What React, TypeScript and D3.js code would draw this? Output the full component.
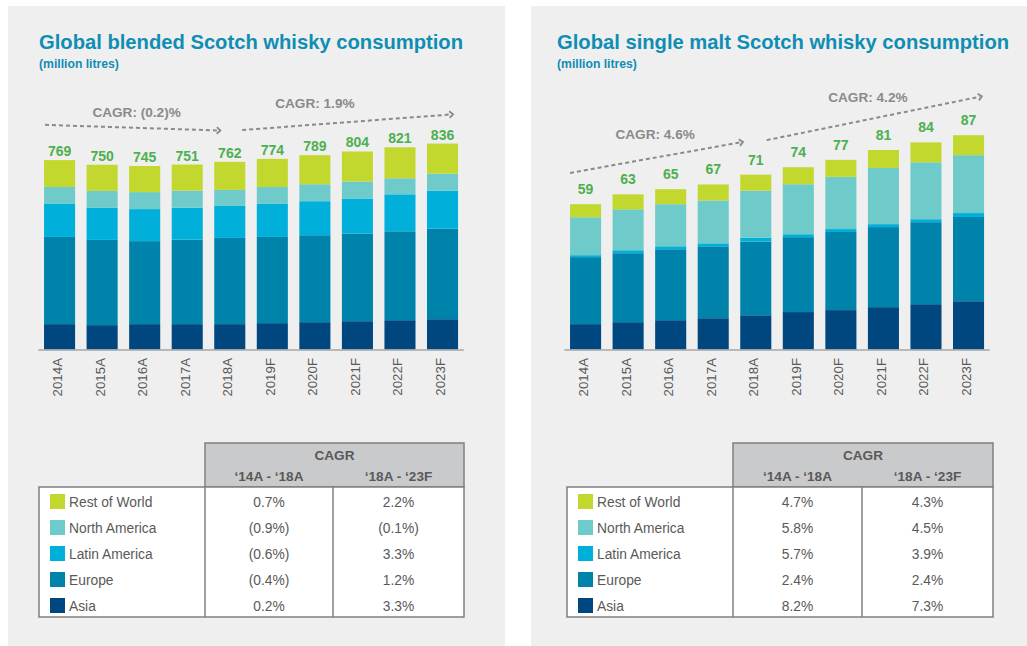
import React from 'react';
import * as d3 from 'd3';

const YEARS = ['2014A', '2015A', '2016A', '2017A', '2018A', '2019F', '2020F', '2021F', '2022F', '2023F'];
const REGIONS = ['Asia', 'Europe', 'Latin America', 'North America', 'Rest of World'];
const REGION_COLORS = ['#00467f', '#0083aa', '#00b0db', '#6ecbca', '#c2d82f'];

// blended Scotch, million litres
const BLENDED_ASIA = [103, 99, 103, 103, 103, 107, 111, 115, 119, 123];
const BLENDED_EUROPE = [354, 346, 337, 343, 350, 350, 353, 356, 361, 368];
const BLENDED_LATAM = [134, 130, 130, 130, 130, 134, 138, 142, 150, 154];
const BLENDED_NAM = [69, 69, 69, 69, 65, 69, 69, 69, 65, 69];
const BLENDED_ROW = [109, 106, 106, 106, 114, 114, 118, 122, 126, 122];
const BLENDED_TOTALS = [769, 750, 745, 751, 762, 774, 789, 804, 821, 836];
const BLENDED_CAGR_1418 = ['0.2%', '(0.4%)', '(0.6%)', '(0.9%)', '0.7%'];
const BLENDED_CAGR_1823 = ['3.3%', '1.2%', '3.3%', '(0.1%)', '2.2%'];

// single malt Scotch, million litres
const MALT_ASIA = [10.3, 11.1, 11.9, 12.7, 13.9, 15.2, 16.0, 17.2, 18.4, 19.6];
const MALT_EUROPE = [27.2, 28.0, 28.8, 29.2, 29.9, 30.4, 31.7, 32.5, 33.3, 34.2];
const MALT_LATAM = [0.8, 1.2, 1.2, 1.2, 1.6, 1.2, 1.2, 1.2, 1.2, 1.6];
const MALT_NAM = [15.4, 16.6, 17.1, 17.4, 19.1, 20.3, 21.2, 22.8, 23.1, 23.5];
const MALT_ROW = [5.3, 6.1, 6.1, 6.5, 6.5, 6.9, 6.9, 7.3, 8.1, 8.1];
const MALT_TOTALS = [59, 63, 65, 67, 71, 74, 77, 81, 84, 87];
const MALT_CAGR_1418 = ['8.2%', '2.4%', '5.7%', '5.8%', '4.7%'];
const MALT_CAGR_1823 = ['7.3%', '2.4%', '3.9%', '4.5%', '4.3%'];

// CAGR arrows: [year, fraction of band, value]
const BLENDED_ARROWS = [
  { label: 'CAGR: (0.2)%', from: ['2014A', 0.03, 912], to: ['2018A', 0.2, 889], text: ['2016A', 0.24, 945] },
  { label: 'CAGR: 1.9%', from: ['2018A', 0.9, 891], to: ['2023F', 0.84, 955], text: ['2020F', 0.5, 981] },
];
const MALT_ARROWS = [
  { label: 'CAGR: 4.6%', from: ['2014A', 0.0, 71.7], to: ['2018A', 0.09, 84.3], text: ['2016A', 0.0, 85.4] },
  { label: 'CAGR: 4.2%', from: ['2018A', 0.85, 85.0], to: ['2023F', 0.93, 102.8], text: ['2021F', 0.0, 100.4] },
];

const FONT = 'Liberation Sans, Arial, Helvetica, sans-serif';
const TEXT_GREY = '#595959';
const TITLE_BLUE = '#0f8db3';
const LABEL_GREEN = '#4cb050';
const ARROW_GREY = '#8a8a8a';

const BASELINE = 349.5;

function Panel({ px, pw, titleX, title, series, totals, maxVal, range, labelGap, arrows, cagrA, cagrB, table }) {
  const x = d3.scaleBand().domain(YEARS).range(range).paddingInner(0.27).paddingOuter(0.135);
  const y = d3.scaleLinear().domain([0, maxVal]).range([BASELINE, BASELINE - 246.3]);

  const rows = YEARS.map((yr, i) => {
    const r: any = { year: yr };
    REGIONS.forEach((reg, k) => (r[reg] = series[k][i]));
    return r;
  });
  const stacked = d3.stack().keys(REGIONS)(rows);

  const pos = (p) => [x(p[0]) + p[1] * x.bandwidth(), y(p[2])];

  const rowH = 26;
  const legendRows = [...REGIONS].reverse();

  return (
    <g>
      <rect x={px} y={6} width={pw} height={640} fill="#efefef" />
      <text x={titleX} y={49} fill={TITLE_BLUE} fontFamily={FONT} fontWeight="bold" fontSize={20.2}>{title}</text>
      <text x={titleX} y={67.5} fill={TITLE_BLUE} fontFamily={FONT} fontWeight="bold" fontSize={12.2}>(million litres)</text>

      {stacked.map((layer, k) => (
        <g key={layer.key} fill={REGION_COLORS[k]}>
          {layer.map((d, i) => (
            <rect key={i} x={x(YEARS[i])} width={x.bandwidth()} y={y(d[1])} height={y(d[0]) - y(d[1])} />
          ))}
        </g>
      ))}

      <line x1={range[0]} x2={range[1]} y1={BASELINE + 0.5} y2={BASELINE + 0.5} stroke="#a6a6a6" strokeWidth={1.5} />

      {totals.map((t, i) => (
        <text key={i} x={x(YEARS[i]) + x.bandwidth() / 2} y={y(d3.sum(series, (s) => s[i])) - labelGap}
          textAnchor="middle" fill={LABEL_GREEN} fontFamily={FONT} fontWeight="bold" fontSize={14}>{t}</text>
      ))}

      {YEARS.map((yr) => (
        <text key={yr} transform={`translate(${x(yr) + x.bandwidth() / 2 + 2.5},358) rotate(-90)`}
          textAnchor="end" fill={TEXT_GREY} fontFamily={FONT} fontSize={13.3}>{yr}</text>
      ))}

      {arrows.map((a) => {
        const [x1, y1] = pos(a.from);
        const [x2, y2] = pos(a.to);
        const ang = Math.atan2(y2 - y1, x2 - x1);
        const hl = 5;
        const head = [ang + 2.4, ang - 2.4].map((t) => [x2 + hl * Math.cos(t), y2 + hl * Math.sin(t)]);
        const [tx, ty] = pos(a.text);
        return (
          <g key={a.label}>
            <line x1={x1} y1={y1} x2={x2 - 2 * Math.cos(ang)} y2={y2 - 2 * Math.sin(ang)} stroke={ARROW_GREY} strokeWidth={2} strokeDasharray="4 3" />
            <path d={`M${head[0][0]},${head[0][1]}L${x2},${y2}L${head[1][0]},${head[1][1]}`} fill="none" stroke={ARROW_GREY} strokeWidth={1.8} />
            <text x={tx} y={ty} textAnchor="middle" fill={ARROW_GREY} fontFamily={FONT} fontWeight="bold" fontSize={13.6}>{a.label}</text>
          </g>
        );
      })}

      {/* CAGR table */}
      <rect x={table.hx} y={443} width={table.r - table.hx} height={44} fill="#c9cacc" stroke="#808080" strokeWidth={1.5} />
      <rect x={table.l} y={487} width={table.r - table.l} height={rowH * 5} fill="#ffffff" stroke="#808080" strokeWidth={1.5} />
      <line x1={table.hx} x2={table.hx} y1={487} y2={617} stroke="#808080" strokeWidth={1.5} />
      <line x1={table.div} x2={table.div} y1={487} y2={617} stroke="#808080" strokeWidth={1.5} />
      <text x={(table.hx + table.r) / 2} y={460} textAnchor="middle" fill={TEXT_GREY} fontFamily={FONT} fontWeight="bold" fontSize={13.6}>CAGR</text>
      <text x={(table.hx + table.div) / 2} y={481} textAnchor="middle" fill={TEXT_GREY} fontFamily={FONT} fontWeight="bold" fontSize={13.6}>‘14A - ‘18A</text>
      <text x={(table.div + table.r) / 2} y={481} textAnchor="middle" fill={TEXT_GREY} fontFamily={FONT} fontWeight="bold" fontSize={13.6}>‘18A - ‘23F</text>
      {legendRows.map((reg, j) => {
        const k = REGIONS.indexOf(reg);
        const cy = 487 + 14.5 + j * rowH;
        return (
          <g key={reg}>
            <rect x={table.l + 11} y={cy - 7.5} width={15} height={15} fill={REGION_COLORS[k]} />
            <text x={table.l + 30} y={cy + 5} fill={TEXT_GREY} fontFamily={FONT} fontSize={13.8}>{reg}</text>
            <text x={(table.hx + table.div) / 2} y={cy + 5} textAnchor="middle" fill={TEXT_GREY} fontFamily={FONT} fontSize={13.8}>{cagrA[k]}</text>
            <text x={(table.div + table.r) / 2} y={cy + 5} textAnchor="middle" fill={TEXT_GREY} fontFamily={FONT} fontSize={13.8}>{cagrB[k]}</text>
          </g>
        );
      })}
    </g>
  );
}

export default function App() {
  return (
    <svg width={1027} height={646} style={{ position: 'absolute', left: 0, top: 0, background: '#ffffff' }}>
      <Panel
        px={8} pw={497} titleX={39}
        title="Global blended Scotch whisky consumption"
        series={[BLENDED_ASIA, BLENDED_EUROPE, BLENDED_LATAM, BLENDED_NAM, BLENDED_ROW]}
        totals={BLENDED_TOTALS} maxVal={1000} range={[38.3, 463.8]} labelGap={4}
        arrows={BLENDED_ARROWS} cagrA={BLENDED_CAGR_1418} cagrB={BLENDED_CAGR_1823}
        table={{ l: 39, hx: 205, div: 333, r: 464 }}
      />
      <Panel
        px={531} pw={496} titleX={557}
        title="Global single malt Scotch whisky consumption"
        series={[MALT_ASIA, MALT_EUROPE, MALT_LATAM, MALT_NAM, MALT_ROW]}
        totals={MALT_TOTALS} maxVal={100} range={[564.3, 989.8]} labelGap={10}
        arrows={MALT_ARROWS} cagrA={MALT_CAGR_1418} cagrB={MALT_CAGR_1823}
        table={{ l: 567, hx: 733, div: 862, r: 993 }}
      />
    </svg>
  );
}
